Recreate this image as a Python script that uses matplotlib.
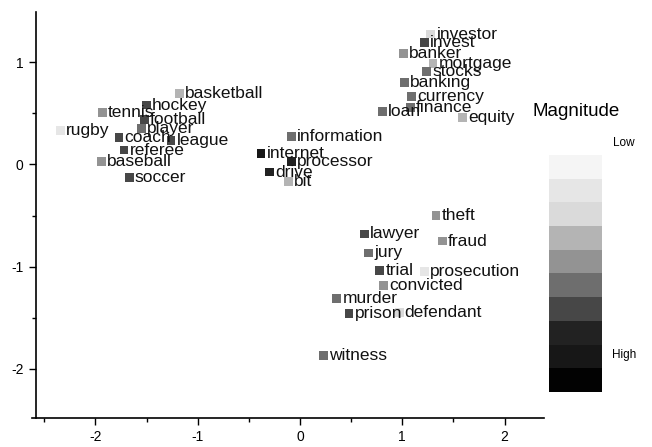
import numpy as np
import matplotlib
matplotlib.use("Agg")
from matplotlib import pyplot as plt
from matplotlib.colors import ListedColormap

plt.rcParams['font.family'] = ['Liberation Sans', 'DejaVu Sans']
plt.rcParams['axes.unicode_minus'] = False

# ------------------------------------------------------------------
# word embedding coordinates + magnitude bin (0 = low, 9 = high)
# ------------------------------------------------------------------
words = ["basketball", "hockey", "tennis", "football", "player", "rugby",
         "coach", "league", "referee", "baseball", "soccer",
         "information", "internet", "processor", "drive", "bit",
         "investor", "invest", "banker", "mortgage", "stocks", "banking",
         "currency", "finance", "loan", "equity",
         "theft", "lawyer", "fraud", "jury", "trial", "prosecution",
         "convicted", "murder", "prison", "defendant", "witness"]

x_vals = [-1.18, -1.50, -1.93, -1.52, -1.55, -2.34,
          -1.77, -1.26, -1.72, -1.94, -1.67,
          -0.08, -0.38, -0.08, -0.30, -0.11,
          1.28, 1.22, 1.01, 1.30, 1.24, 1.02,
          1.09, 1.08, 0.81, 1.59,
          1.33, 0.63, 1.39, 0.67, 0.78, 1.22,
          0.82, 0.36, 0.48, 0.97, 0.23]

y_vals = [0.69, 0.58, 0.51, 0.44, 0.35, 0.33,
          0.26, 0.235, 0.14, 0.03, -0.125,
          0.275, 0.105, 0.03, -0.075, -0.165,
          1.275, 1.19, 1.085, 0.99, 0.905, 0.80,
          0.667, 0.555, 0.52, 0.46,
          -0.50, -0.68, -0.75, -0.866, -1.04, -1.05,
          -1.186, -1.31, -1.455, -1.45, -1.87]

magnitude = [3, 6, 4, 6, 5, 1,
             6, 6, 6, 4, 6,
             5, 8, 7, 7, 3,
             2, 6, 4, 3, 5, 5,
             5, 5, 5, 3,
             4, 6, 4, 5, 6, 1,
             4, 5, 6, 2, 5]

# grey shades of the magnitude scale, low -> high
scale_colors = ["#f5f5f5", "#e6e6e6", "#dadada", "#b4b4b4", "#939393",
                "#6e6e6e", "#474747", "#222222", "#171717", "#020202"]

x_ticks = [-2, -1, 0, 1, 2]
y_ticks = [-2, -1, 0, 1]

# ------------------------------------------------------------------
# plot
# ------------------------------------------------------------------
cmap = ListedColormap(scale_colors)

fig = plt.figure(figsize=(6.52, 4.47), dpi=100)
ax = fig.add_axes([0.049, 0.065, 0.786, 0.908])

ax.scatter(x_vals, y_vals, c=magnitude, cmap=cmap, vmin=-0.5, vmax=9.5,
           marker='s', s=40, linewidths=0, zorder=2)

for w, x, y in zip(words, x_vals, y_vals):
    ax.annotate(w, (x, y), xytext=(4, 0), textcoords='offset points',
                va='center', ha='left', fontsize=12.5, color='#111111', zorder=3)

ax.set_xlim(-2.62, 2.39)
ax.set_ylim(-2.48, 1.49)
ax.set_xticks(x_ticks)
ax.set_yticks(y_ticks)
ax.set_xticks(np.arange(-2.5, 2.4, 1.0), minor=True)
ax.set_yticks(np.arange(-1.5, 1.5, 1.0), minor=True)
ax.tick_params(which='major', direction='out', length=5, width=1, labelsize=10)
ax.tick_params(which='minor', direction='out', length=3, width=1)

for side in ['top', 'right']:
    ax.spines[side].set_visible(False)
ax.spines['left'].set_position(('data', -2.585))
ax.spines['left'].set_linewidth(1.2)
ax.spines['bottom'].set_linewidth(1.2)

# magnitude colour key
cax = fig.add_axes([0.8425, 0.1237, 0.0804, 0.5295])
levels = np.arange(len(scale_colors)).reshape(-1, 1)
cax.imshow(levels, cmap=cmap, aspect='auto', interpolation='nearest',
           extent=(0, 1, len(scale_colors), 0))
cax.axis('off')

fig.text(0.883, 0.75, "Magnitude", ha='center', va='center', fontsize=13.5)
fig.text(0.957, 0.68, "Low", ha='center', va='center', fontsize=8.5)
fig.text(0.957, 0.206, "High", ha='center', va='center', fontsize=8.5)

fig.savefig("out.png", dpi=100)
